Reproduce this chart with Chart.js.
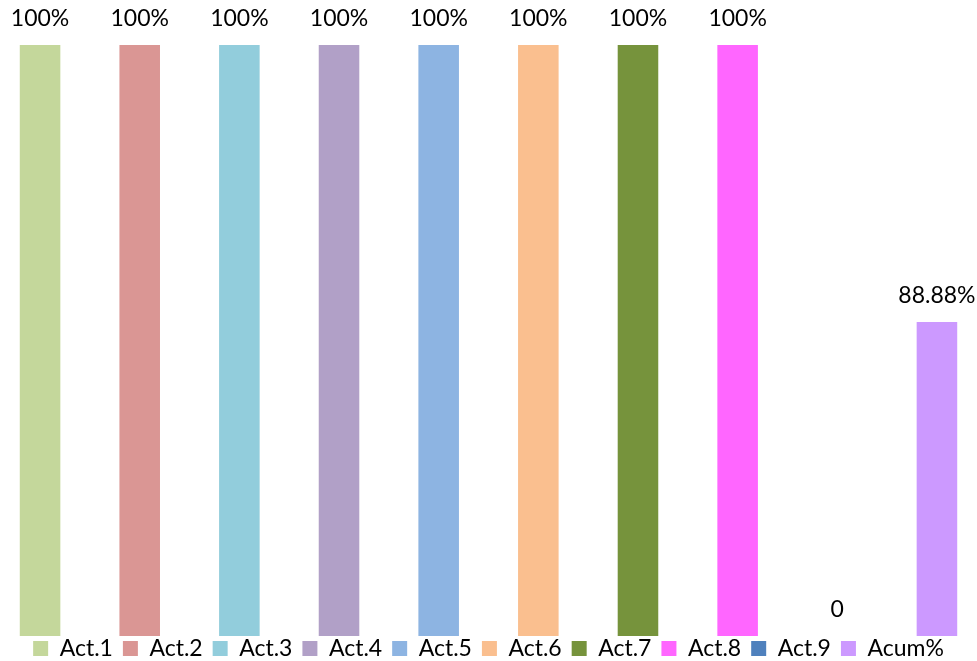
<!DOCTYPE html>
<html>
<head>
<meta charset="utf-8">
<script src="https://cdn.jsdelivr.net/npm/chart.js@4.4.0/dist/chart.umd.min.js"></script>
<style>
  html, body { margin: 0; padding: 0; background: #fff; }
  #wrap { width: 977px; height: 661px; }
</style>
</head>
<body>
<div id="wrap"><canvas id="myChart" width="977" height="661"></canvas></div>
<script>
// dados do gráfico
const series = ['Act.1', 'Act.2', 'Act.3', 'Act.4', 'Act.5', 'Act.6', 'Act.7', 'Act.8', 'Act.9', 'Acum%'];
const values = [100, 100, 100, 100, 100, 100, 100, 100, 0, 88.88];
const labelsTexto = ['100%', '100%', '100%', '100%', '100%', '100%', '100%', '100%', '0', '88.88%'];
const cores = ['#C4D79B', '#DA9694', '#92CDDC', '#B1A0C7', '#8DB4E2', '#FABF8F', '#76933C', '#FF66FF', '#4F81BD', '#CC99FF'];

const fonte = 'Lato, "Open Sans", sans-serif';

// plugin simples para escrever os valores em cima das barras
const rotulos = {
    id: 'rotulos',
    afterDatasetsDraw(chart) {
        const ctx = chart.ctx;
        ctx.save();
        ctx.font = '23px ' + fonte;
        ctx.fillStyle = '#000';
        ctx.textAlign = 'center';
        ctx.textBaseline = 'alphabetic';
        chart.data.datasets.forEach((ds, i) => {
            const bar = chart.getDatasetMeta(i).data[0];
            ctx.fillText(labelsTexto[i], bar.x, bar.y - 19);
        });
        ctx.restore();
    }
};

// legenda mais baixa: altura fixa de 25px, mas com espaço entre os itens
const legendaFixa = {
    id: 'legendaFixa',
    afterInit(chart) {
        const lg = chart.legend;
        const fitOrig = lg.fit;
        lg.fit = function () {
            fitOrig.call(this);
            this.height = 25;
            this.bottom = this.top + 25;
        };
        const drawOrig = lg._draw;
        lg._draw = function () {
            const t = this.top;
            this.top = t - 9;
            drawOrig.call(this);
            this.top = t;
        };
    }
};

const ctx = document.getElementById('myChart').getContext('2d');
const myChart = new Chart(ctx, {
    type: 'bar',
    data: {
        labels: [''],
        datasets: series.map((nome, i) => ({
            label: nome,
            data: [values[i]],
            backgroundColor: cores[i],
            borderWidth: 0,
            yAxisID: nome === 'Acum%' ? 'y2' : 'y'
        }))
    },
    options: {
        responsive: false,
        animation: false,
        categoryPercentage: 1.02,
        barPercentage: 0.407,
        layout: {
            padding: { top: 45, right: 0, bottom: 0, left: 0 }
        },
        plugins: {
            tooltip: { enabled: false },
            legend: {
                position: 'bottom',
                labels: {
                    color: '#000',
                    font: { family: fonte, size: 23 },
                    boxWidth: 15,
                    boxHeight: 15,
                    padding: 10
                }
            }
        },
        scales: {
            x: { display: false },
            y: { display: false, min: 0, max: 100 },
            y2: { display: false, min: 0, max: 167.3 }
        }
    },
    plugins: [rotulos, legendaFixa]
});
</script>
</body>
</html>
